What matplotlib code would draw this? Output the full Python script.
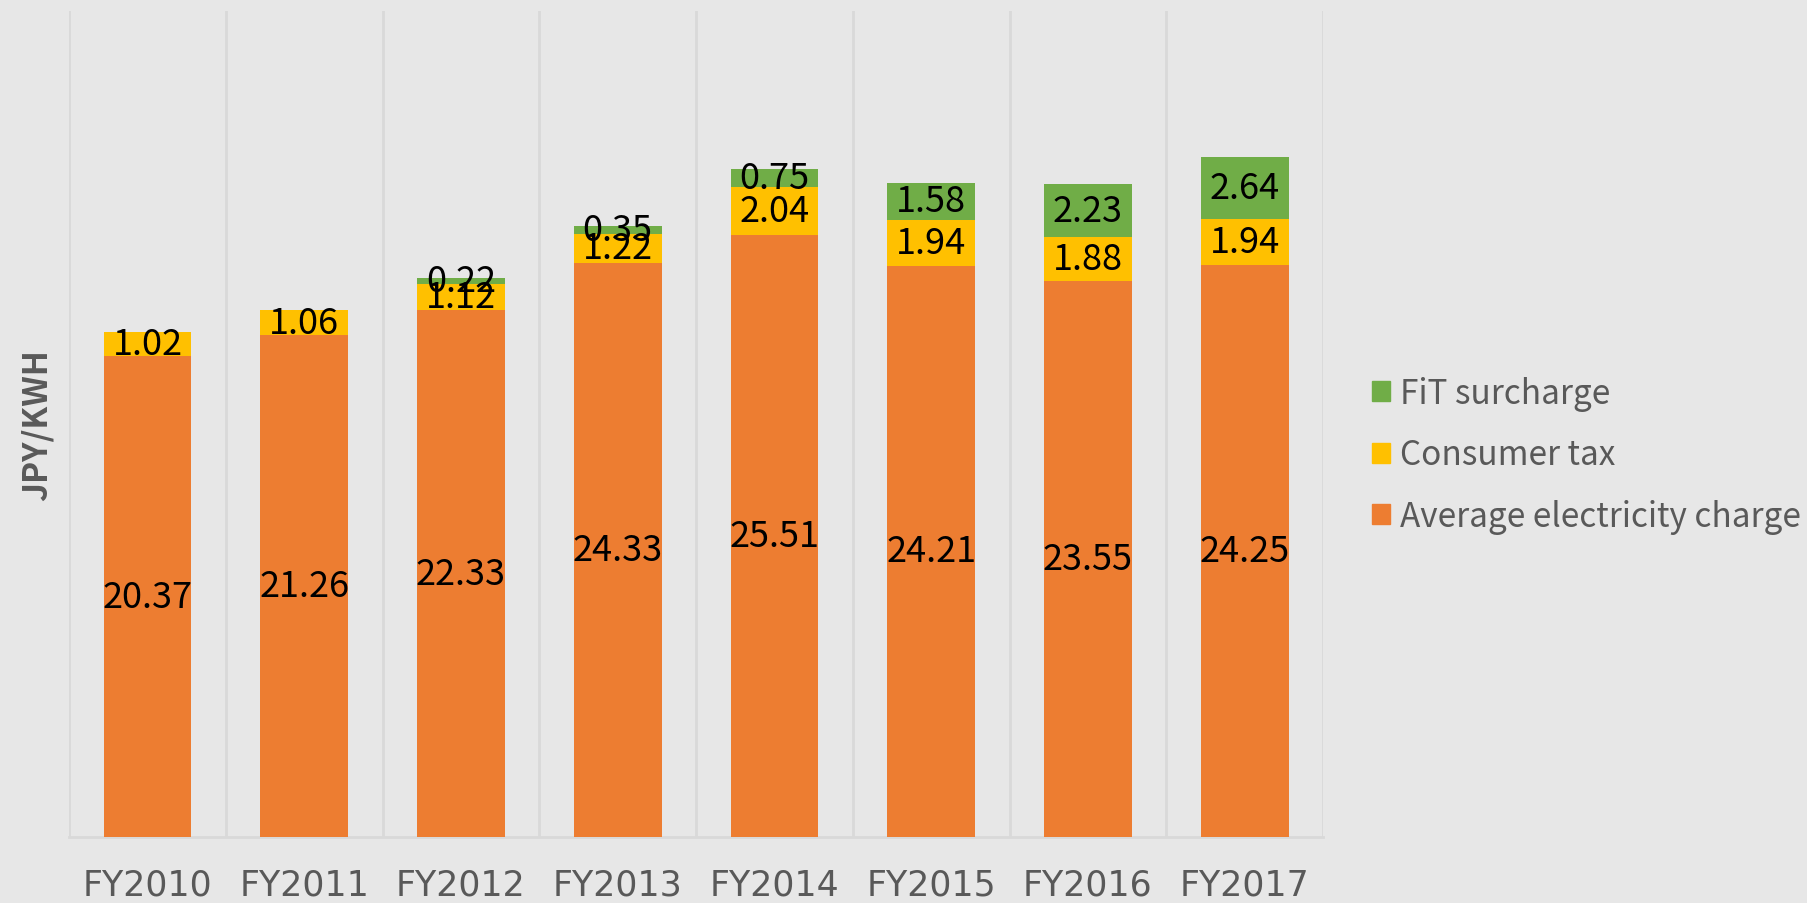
import numpy as np
import matplotlib
matplotlib.use("Agg")
import matplotlib.pyplot as plt
from matplotlib.patches import Patch

years = ["FY2010", "FY2011", "FY2012", "FY2013", "FY2014", "FY2015", "FY2016", "FY2017"]
avg_charge = [20.37, 21.26, 22.33, 24.33, 25.51, 24.21, 23.55, 24.25]
consumer_tax = [1.02, 1.06, 1.12, 1.22, 2.04, 1.94, 1.88, 1.94]
fit_surcharge = [0, 0, 0.22, 0.35, 0.75, 1.58, 2.23, 2.64]

c_avg = "#ED7D31"
c_tax = "#FFC000"
c_fit = "#70AD47"
bg = "#E7E7E7"
grid_c = "#D9D9D9"
txt_c = "#595959"

plt.rcParams["font.family"] = ["Noto Sans CJK JP", "DejaVu Sans"]

fig = plt.figure(figsize=(18.07, 9.04), dpi=100, facecolor=bg)
ax = fig.add_axes([0.0382, 0.0730, 0.694, 0.9137])
ax.set_facecolor(bg)

x = np.arange(len(years))
w = 0.56
ax.bar(x, avg_charge, w, color=c_avg, zorder=3)
ax.bar(x, consumer_tax, w, bottom=avg_charge, color=c_tax, zorder=3)
bottom3 = np.array(avg_charge) + np.array(consumer_tax)
ax.bar(x, fit_surcharge, w, bottom=bottom3, color=c_fit, zorder=3)

# data labels in the middle of each segment
for i in range(len(years)):
    segs = [(0, avg_charge[i]), (avg_charge[i], consumer_tax[i]), (bottom3[i], fit_surcharge[i])]
    for base, v in segs:
        if v <= 0:
            continue
        ax.text(x[i], base + v / 2, "%.2f" % v, ha="center", va="center",
                fontsize=26, color="black", zorder=4)

ax.set_xlim(-0.5, len(years) - 0.5)
ax.set_ylim(0, 35)

# vertical gridlines between categories
for b in np.arange(-0.5, len(years), 1.0):
    ax.axvline(b, color=grid_c, lw=2, zorder=1)

for s in ["top", "left", "right"]:
    ax.spines[s].set_visible(False)
ax.spines["bottom"].set_color(grid_c)
ax.spines["bottom"].set_linewidth(2)

ax.set_yticks([])
ax.set_xticks(x)
ax.set_xticklabels(years, fontsize=25, color=txt_c, family="DejaVu Sans")
ax.tick_params(axis="x", length=0, pad=22)

ax.set_ylabel("JPY/KWH", fontsize=24, fontweight="bold", color=txt_c)
ax.yaxis.set_label_coords(-0.012, 0.5)

handles = [Patch(color=c_fit), Patch(color=c_tax), Patch(color=c_avg)]
labels = ["FiT surcharge", "Consumer tax", "Average electricity charge"]
leg = fig.legend(handles, labels, loc="center left", bbox_to_anchor=(0.750, 0.4956),
                 frameon=False, fontsize=24, handlelength=0.55, handleheight=0.55,
                 handletextpad=0.3, labelspacing=0.8, borderpad=0)
for t in leg.get_texts():
    t.set_color(txt_c)

fig.savefig("out.png", dpi=100, facecolor=bg)
